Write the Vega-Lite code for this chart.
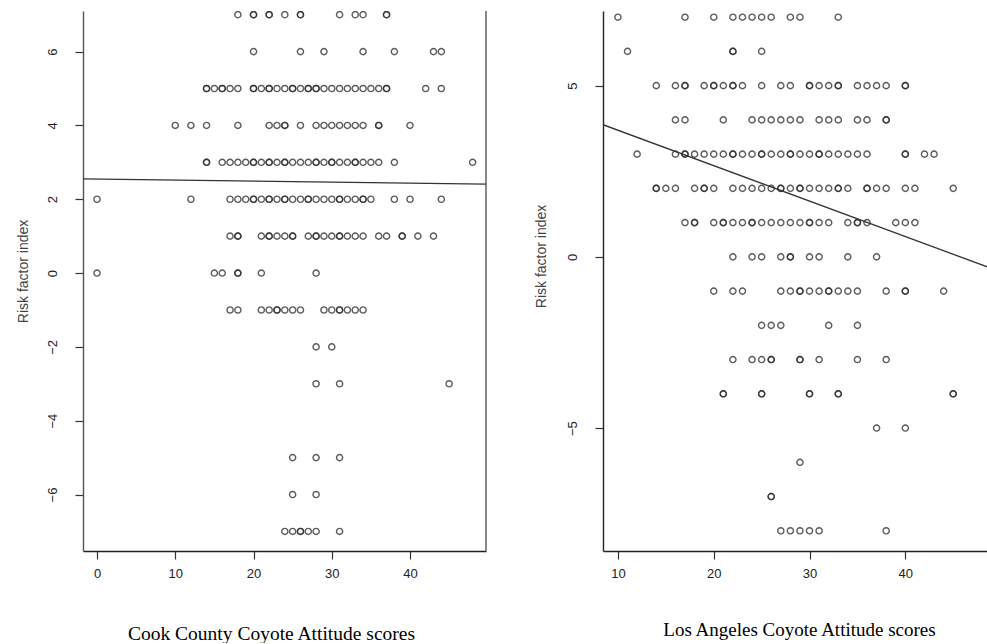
{
  "$schema": "https://vega.github.io/schema/vega-lite/v6.json",
  "background": "white",
  "padding": {"left": 16, "top": 10, "right": 0, "bottom": 0},
  "config": {"view": {"stroke": null}},
  "datasets": {
    "cook": [
      {"x":18,"y":7},{"x":20,"y":7},{"x":20,"y":7},{"x":22,"y":7},{"x":22,"y":7},{"x":24,"y":7},{"x":26,"y":7},{"x":26,"y":7},{"x":31,"y":7},{"x":33,"y":7},{"x":34,"y":7},{"x":37,"y":7},{"x":37,"y":7},
      {"x":20,"y":6},{"x":26,"y":6},{"x":29,"y":6},{"x":34,"y":6},{"x":38,"y":6},{"x":43,"y":6},{"x":44,"y":6},
      {"x":14,"y":5},{"x":14,"y":5},{"x":15,"y":5},{"x":16,"y":5},{"x":16,"y":5},{"x":17,"y":5},{"x":18,"y":5},{"x":20,"y":5},{"x":20,"y":5},{"x":21,"y":5},{"x":22,"y":5},{"x":22,"y":5},{"x":23,"y":5},{"x":24,"y":5},{"x":25,"y":5},{"x":25,"y":5},{"x":26,"y":5},{"x":27,"y":5},{"x":27,"y":5},{"x":28,"y":5},{"x":28,"y":5},{"x":29,"y":5},{"x":30,"y":5},{"x":31,"y":5},{"x":32,"y":5},{"x":33,"y":5},{"x":34,"y":5},{"x":35,"y":5},{"x":36,"y":5},{"x":37,"y":5},{"x":37,"y":5},{"x":42,"y":5},{"x":44,"y":5},
      {"x":10,"y":4},{"x":12,"y":4},{"x":14,"y":4},{"x":18,"y":4},{"x":22,"y":4},{"x":23,"y":4},{"x":24,"y":4},{"x":24,"y":4},{"x":26,"y":4},{"x":28,"y":4},{"x":29,"y":4},{"x":30,"y":4},{"x":31,"y":4},{"x":32,"y":4},{"x":33,"y":4},{"x":34,"y":4},{"x":36,"y":4},{"x":36,"y":4},{"x":40,"y":4},
      {"x":14,"y":3},{"x":14,"y":3},{"x":16,"y":3},{"x":17,"y":3},{"x":18,"y":3},{"x":19,"y":3},{"x":20,"y":3},{"x":20,"y":3},{"x":21,"y":3},{"x":22,"y":3},{"x":22,"y":3},{"x":23,"y":3},{"x":24,"y":3},{"x":24,"y":3},{"x":25,"y":3},{"x":26,"y":3},{"x":27,"y":3},{"x":28,"y":3},{"x":28,"y":3},{"x":29,"y":3},{"x":30,"y":3},{"x":30,"y":3},{"x":31,"y":3},{"x":32,"y":3},{"x":33,"y":3},{"x":33,"y":3},{"x":34,"y":3},{"x":35,"y":3},{"x":36,"y":3},{"x":38,"y":3},{"x":48,"y":3},
      {"x":0,"y":2},{"x":12,"y":2},{"x":17,"y":2},{"x":18,"y":2},{"x":19,"y":2},{"x":20,"y":2},{"x":20,"y":2},{"x":21,"y":2},{"x":22,"y":2},{"x":22,"y":2},{"x":23,"y":2},{"x":24,"y":2},{"x":24,"y":2},{"x":25,"y":2},{"x":26,"y":2},{"x":27,"y":2},{"x":27,"y":2},{"x":28,"y":2},{"x":29,"y":2},{"x":30,"y":2},{"x":31,"y":2},{"x":31,"y":2},{"x":32,"y":2},{"x":33,"y":2},{"x":34,"y":2},{"x":34,"y":2},{"x":35,"y":2},{"x":38,"y":2},{"x":40,"y":2},{"x":44,"y":2},
      {"x":17,"y":1},{"x":18,"y":1},{"x":18,"y":1},{"x":21,"y":1},{"x":22,"y":1},{"x":22,"y":1},{"x":23,"y":1},{"x":24,"y":1},{"x":25,"y":1},{"x":25,"y":1},{"x":27,"y":1},{"x":28,"y":1},{"x":28,"y":1},{"x":29,"y":1},{"x":30,"y":1},{"x":31,"y":1},{"x":31,"y":1},{"x":32,"y":1},{"x":33,"y":1},{"x":34,"y":1},{"x":36,"y":1},{"x":37,"y":1},{"x":39,"y":1},{"x":39,"y":1},{"x":41,"y":1},{"x":43,"y":1},
      {"x":0,"y":0},{"x":15,"y":0},{"x":16,"y":0},{"x":18,"y":0},{"x":18,"y":0},{"x":21,"y":0},{"x":28,"y":0},
      {"x":17,"y":-1},{"x":18,"y":-1},{"x":21,"y":-1},{"x":22,"y":-1},{"x":23,"y":-1},{"x":23,"y":-1},{"x":24,"y":-1},{"x":25,"y":-1},{"x":26,"y":-1},{"x":29,"y":-1},{"x":30,"y":-1},{"x":31,"y":-1},{"x":31,"y":-1},{"x":32,"y":-1},{"x":33,"y":-1},{"x":34,"y":-1},
      {"x":28,"y":-2},{"x":30,"y":-2},
      {"x":28,"y":-3},{"x":31,"y":-3},{"x":45,"y":-3},
      {"x":25,"y":-5},{"x":28,"y":-5},{"x":31,"y":-5},
      {"x":25,"y":-6},{"x":28,"y":-6},
      {"x":24,"y":-7},{"x":25,"y":-7},{"x":26,"y":-7},{"x":26,"y":-7},{"x":27,"y":-7},{"x":28,"y":-7},{"x":31,"y":-7}
    ],
    "la": [
      {"x":10,"y":7},{"x":17,"y":7},{"x":20,"y":7},{"x":22,"y":7},{"x":23,"y":7},{"x":24,"y":7},{"x":25,"y":7},{"x":26,"y":7},{"x":28,"y":7},{"x":29,"y":7},{"x":33,"y":7},
      {"x":11,"y":6},{"x":22,"y":6},{"x":22,"y":6},{"x":25,"y":6},
      {"x":14,"y":5},{"x":16,"y":5},{"x":17,"y":5},{"x":17,"y":5},{"x":19,"y":5},{"x":20,"y":5},{"x":20,"y":5},{"x":21,"y":5},{"x":22,"y":5},{"x":22,"y":5},{"x":23,"y":5},{"x":25,"y":5},{"x":27,"y":5},{"x":28,"y":5},{"x":30,"y":5},{"x":30,"y":5},{"x":31,"y":5},{"x":32,"y":5},{"x":33,"y":5},{"x":33,"y":5},{"x":35,"y":5},{"x":36,"y":5},{"x":37,"y":5},{"x":38,"y":5},{"x":40,"y":5},{"x":40,"y":5},
      {"x":16,"y":4},{"x":17,"y":4},{"x":21,"y":4},{"x":24,"y":4},{"x":25,"y":4},{"x":26,"y":4},{"x":27,"y":4},{"x":28,"y":4},{"x":29,"y":4},{"x":31,"y":4},{"x":32,"y":4},{"x":33,"y":4},{"x":35,"y":4},{"x":36,"y":4},{"x":38,"y":4},{"x":38,"y":4},
      {"x":12,"y":3},{"x":16,"y":3},{"x":17,"y":3},{"x":17,"y":3},{"x":18,"y":3},{"x":19,"y":3},{"x":20,"y":3},{"x":21,"y":3},{"x":22,"y":3},{"x":22,"y":3},{"x":23,"y":3},{"x":24,"y":3},{"x":25,"y":3},{"x":25,"y":3},{"x":26,"y":3},{"x":27,"y":3},{"x":28,"y":3},{"x":28,"y":3},{"x":29,"y":3},{"x":30,"y":3},{"x":31,"y":3},{"x":31,"y":3},{"x":32,"y":3},{"x":33,"y":3},{"x":34,"y":3},{"x":35,"y":3},{"x":36,"y":3},{"x":40,"y":3},{"x":40,"y":3},{"x":42,"y":3},{"x":43,"y":3},
      {"x":14,"y":2},{"x":14,"y":2},{"x":15,"y":2},{"x":16,"y":2},{"x":18,"y":2},{"x":19,"y":2},{"x":19,"y":2},{"x":20,"y":2},{"x":22,"y":2},{"x":23,"y":2},{"x":24,"y":2},{"x":25,"y":2},{"x":26,"y":2},{"x":27,"y":2},{"x":27,"y":2},{"x":28,"y":2},{"x":29,"y":2},{"x":29,"y":2},{"x":30,"y":2},{"x":31,"y":2},{"x":32,"y":2},{"x":33,"y":2},{"x":33,"y":2},{"x":34,"y":2},{"x":36,"y":2},{"x":36,"y":2},{"x":37,"y":2},{"x":38,"y":2},{"x":40,"y":2},{"x":41,"y":2},{"x":45,"y":2},
      {"x":17,"y":1},{"x":18,"y":1},{"x":18,"y":1},{"x":20,"y":1},{"x":21,"y":1},{"x":21,"y":1},{"x":22,"y":1},{"x":23,"y":1},{"x":24,"y":1},{"x":24,"y":1},{"x":25,"y":1},{"x":26,"y":1},{"x":27,"y":1},{"x":28,"y":1},{"x":29,"y":1},{"x":30,"y":1},{"x":30,"y":1},{"x":31,"y":1},{"x":32,"y":1},{"x":34,"y":1},{"x":35,"y":1},{"x":35,"y":1},{"x":36,"y":1},{"x":39,"y":1},{"x":40,"y":1},{"x":41,"y":1},
      {"x":22,"y":0},{"x":24,"y":0},{"x":25,"y":0},{"x":27,"y":0},{"x":28,"y":0},{"x":28,"y":0},{"x":30,"y":0},{"x":31,"y":0},{"x":34,"y":0},{"x":37,"y":0},
      {"x":20,"y":-1},{"x":22,"y":-1},{"x":23,"y":-1},{"x":27,"y":-1},{"x":28,"y":-1},{"x":29,"y":-1},{"x":29,"y":-1},{"x":30,"y":-1},{"x":31,"y":-1},{"x":32,"y":-1},{"x":32,"y":-1},{"x":33,"y":-1},{"x":34,"y":-1},{"x":35,"y":-1},{"x":38,"y":-1},{"x":40,"y":-1},{"x":40,"y":-1},{"x":44,"y":-1},
      {"x":25,"y":-2},{"x":26,"y":-2},{"x":27,"y":-2},{"x":32,"y":-2},{"x":35,"y":-2},
      {"x":22,"y":-3},{"x":24,"y":-3},{"x":25,"y":-3},{"x":26,"y":-3},{"x":26,"y":-3},{"x":29,"y":-3},{"x":29,"y":-3},{"x":31,"y":-3},{"x":35,"y":-3},{"x":38,"y":-3},
      {"x":21,"y":-4},{"x":21,"y":-4},{"x":25,"y":-4},{"x":25,"y":-4},{"x":30,"y":-4},{"x":30,"y":-4},{"x":33,"y":-4},{"x":33,"y":-4},{"x":45,"y":-4},{"x":45,"y":-4},
      {"x":37,"y":-5},{"x":40,"y":-5},
      {"x":29,"y":-6},
      {"x":26,"y":-7},{"x":26,"y":-7},
      {"x":27,"y":-8},{"x":28,"y":-8},{"x":29,"y":-8},{"x":30,"y":-8},{"x":31,"y":-8},{"x":38,"y":-8}
    ],
    "cookfit": [{"x":-1.79,"y":2.55},{"x":49.71,"y":2.41}],
    "lafit": [{"x":8.44,"y":3.86},{"x":48.63,"y":-0.3}]
  },
  "concat": [
    {
      "width": 403,
      "height": 540,
      "layer": [
        {
          "data": {"name": "cook"},
          "mark": {"type": "point", "shape": "circle", "filled": false, "color": "#2e2e2e", "strokeWidth": 1.4, "size": 38, "opacity": 0.78, "clip": true},
          "encoding": {
            "x": {"field": "x", "type": "quantitative", "title": "Cook County Coyote Attitude scores",
              "scale": {"domain": [-1.79, 49.71], "nice": false, "zero": false},
              "axis": {"values": [0, 10, 20, 30, 40], "grid": false, "tickSize": 8, "tickColor": "#333", "tickWidth": 1.2, "domainColor": "#222", "domainWidth": 1.4,
                "labelFont": "Liberation Sans", "labelFontSize": 13, "labelColor": "#222", "labelPadding": 8, "labelFlush": false,
                "titleFont": "Liberation Serif", "titleFontSize": 19.5, "titleFontWeight": "normal", "titleColor": "#000",
                "titleAlign": "center", "titleBaseline": "alphabetic", "titleX": 188, "titleY": 88}},
            "y": {"field": "y", "type": "quantitative", "title": "Risk factor index",
              "scale": {"domain": [-7.53, 7.1], "nice": false, "zero": false},
              "axis": {"values": [-6, -4, -2, 0, 2, 4, 6], "grid": false, "tickSize": 8, "tickColor": "#333", "tickWidth": 1.2, "domainColor": "#555", "domainWidth": 1.4,
                "labelFont": "Liberation Sans", "labelFontSize": 13, "labelColor": "#222", "labelPadding": 16, "labelFlush": false,
                "labelAngle": -90, "labelAlign": "center", "labelBaseline": "bottom",
                "titleFont": "Liberation Sans", "titleFontSize": 14, "titleFontWeight": "normal", "titleColor": "#444",
                "titleAngle": 270, "titleAlign": "center", "titleBaseline": "middle", "titleX": -60, "titleY": 260}}
          }
        },
        {
          "data": {"name": "cookfit"},
          "mark": {"type": "line", "color": "#333", "strokeWidth": 1.3, "clip": true},
          "encoding": {
            "x": {"field": "x", "type": "quantitative", "title": "Cook County Coyote Attitude scores"},
            "y": {"field": "y", "type": "quantitative", "title": "Risk factor index"}
          }
        },
        {
          "data": {"values": [{}]},
          "mark": {"type": "rule", "color": "#555", "strokeWidth": 1.4},
          "encoding": {
            "x": {"datum": 49.71, "type": "quantitative", "title": "Cook County Coyote Attitude scores"}
          }
        }
      ]
    },
    {
      "width": 385,
      "height": 540,
      "layer": [
        {
          "data": {"name": "la"},
          "mark": {"type": "point", "shape": "circle", "filled": false, "color": "#2e2e2e", "strokeWidth": 1.4, "size": 38, "opacity": 0.78, "clip": true},
          "encoding": {
            "x": {"field": "x", "type": "quantitative", "title": "Los Angeles Coyote Attitude scores",
              "scale": {"domain": [8.44, 48.63], "nice": false, "zero": false},
              "axis": {"values": [10, 20, 30, 40], "grid": false, "tickSize": 8, "tickColor": "#333", "tickWidth": 1.2, "domainColor": "#222", "domainWidth": 1.4,
                "labelFont": "Liberation Sans", "labelFontSize": 13, "labelColor": "#222", "labelPadding": 8, "labelFlush": false,
                "titleFont": "Liberation Serif", "titleFontSize": 19, "titleFontWeight": "normal", "titleColor": "#000",
                "titleAlign": "center", "titleBaseline": "alphabetic", "titleX": 196, "titleY": 84}},
            "y": {"field": "y", "type": "quantitative", "title": "Risk factor index",
              "scale": {"domain": [-8.59, 7.18], "nice": false, "zero": false},
              "axis": {"values": [-5, 0, 5], "grid": false, "tickSize": 8, "tickColor": "#333", "tickWidth": 1.2, "domainColor": "#222", "domainWidth": 1.4,
                "labelFont": "Liberation Sans", "labelFontSize": 13, "labelColor": "#222", "labelPadding": 16, "labelFlush": false,
                "labelAngle": -90, "labelAlign": "center", "labelBaseline": "bottom",
                "titleFont": "Liberation Sans", "titleFontSize": 14, "titleFontWeight": "normal", "titleColor": "#444",
                "titleAngle": 270, "titleAlign": "center", "titleBaseline": "middle", "titleX": -62, "titleY": 245}}
          }
        },
        {
          "data": {"name": "lafit"},
          "mark": {"type": "line", "color": "#333", "strokeWidth": 1.3, "clip": true},
          "encoding": {
            "x": {"field": "x", "type": "quantitative", "title": "Los Angeles Coyote Attitude scores"},
            "y": {"field": "y", "type": "quantitative", "title": "Risk factor index"}
          }
        }
      ]
    }
  ],
  "columns": 2,
  "align": "none",
  "spacing": 47
}
